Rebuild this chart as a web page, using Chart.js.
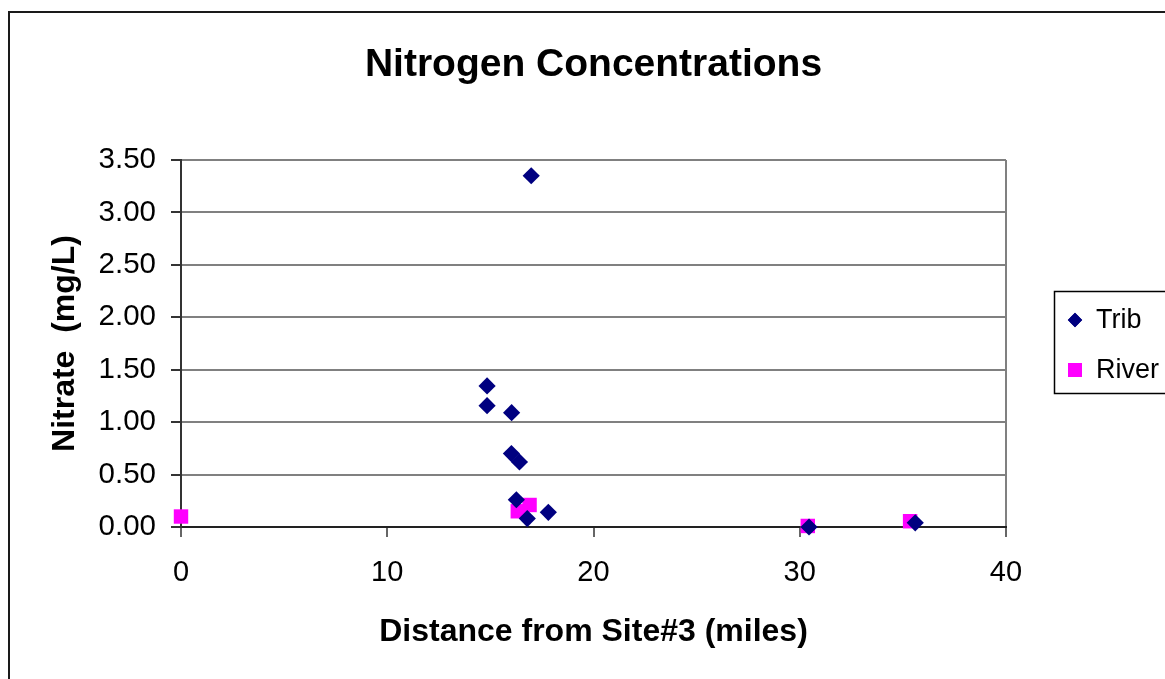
<!DOCTYPE html>
<html><head><meta charset="utf-8">
<script src="https://cdn.jsdelivr.net/npm/chart.js@4/dist/chart.umd.min.js"></script>
<style>html,body{margin:0;padding:0;background:#fff;overflow:hidden}#wrap{width:1165px;height:679px;position:relative}</style>
</head><body><div id="wrap"><canvas id="c" width="1165" height="679"></canvas></div>
<script>
const chartTitle = 'Nitrogen Concentrations';
const xAxisTitle = 'Distance from Site#3 (miles)';
const yAxisTitle = 'Nitrate  (mg/L)';
const seriesNames = ['Trib', 'River'];
const tribX = [16.98, 14.84, 14.84, 16.03, 16.02, 16.41, 16.26, 16.79, 17.81, 30.45, 35.6];
const tribY = [3.35, 1.345, 1.157, 1.09, 0.70, 0.62, 0.26, 0.08, 0.14, 0.0, 0.04];
const riverX = [0, 16.33, 16.9, 30.39, 35.35];
const riverY = [0.10, 0.15, 0.21, 0.01, 0.055];
const xTickValues = [0, 10, 20, 30, 40];
const yTickValues = [0, 0.5, 1.0, 1.5, 2.0, 2.5, 3.0, 3.5];

const FONT = "'Liberation Sans', Arial, sans-serif";
const toPts = (xs, ys) => xs.map((x, i) => ({x: x, y: ys[i]}));

const framePlugin = {
  id: 'frame',
  beforeDraw(chart) {
    const ctx = chart.ctx;
    ctx.save();
    ctx.fillStyle = '#fff';
    ctx.fillRect(0, 0, chart.width, chart.height);
    ctx.lineWidth = 2;
    ctx.strokeStyle = '#1a1a1a';
    ctx.strokeRect(9, 12, 1200, 700);
    ctx.restore();
  },
  afterDraw(chart) {
    const ctx = chart.ctx;
    ctx.save();
    ctx.lineWidth = 1.5;
    ctx.strokeStyle = '#000';
    ctx.strokeRect(1054.5, 291.5, 200, 102);
    const ds = chart.data.datasets;
    const items = [
      {ds: ds[0], y: 320, r: 7.2},
      {ds: ds[1], y: 370, r: 9.9}
    ];
    items.forEach(it => {
      ctx.fillStyle = it.ds.backgroundColor;
      Chart.helpers.drawPoint(ctx, {pointStyle: it.ds.pointStyle, radius: it.r, borderWidth: 0, rotation: 0}, 1075, it.y);
      ctx.fill();
      ctx.fillStyle = '#000';
      ctx.font = '27px ' + FONT;
      ctx.textBaseline = 'alphabetic';
      ctx.textAlign = 'left';
      ctx.fillText(it.ds.label, 1096, it.y + 8);
    });
    ctx.restore();
  }
};

new Chart(document.getElementById('c'), {
  type: 'scatter',
  data: {
    datasets: [
      {label: seriesNames[0], data: toPts(tribX, tribY), pointStyle: 'rectRot', pointRadius: 8.6, pointHoverRadius: 8.6,
       backgroundColor: '#000080', borderColor: '#000080', pointBorderWidth: 0, borderWidth: 0, clip: false},
      {label: seriesNames[1], data: toPts(riverX, riverY), pointStyle: 'rect', pointRadius: 10.2, pointHoverRadius: 10.2,
       backgroundColor: '#ff00ff', borderColor: '#ff00ff', pointBorderWidth: 0, borderWidth: 0, clip: false}
    ]
  },
  options: {
    responsive: false,
    devicePixelRatio: 1,
    animation: false,
    events: [],
    layout: {padding: {left: 10, top: 10, right: 159, bottom: 0}},
    plugins: {
      legend: {display: false},
      tooltip: {enabled: false},
      title: {
        display: true, text: chartTitle, fullSize: false, color: '#000',
        font: {family: FONT, size: 39, weight: 'bold'},
        padding: {top: 32, bottom: 71.2}
      }
    },
    scales: {
      x: {
        type: 'linear', min: 0, max: 40,
        afterBuildTicks: s => { s.ticks = xTickValues.map(v => ({value: v})); },
        afterFit: s => { s.height = 152; },
        ticks: {color: '#000', font: {family: FONT, size: 29}, padding: 18.6, maxRotation: 0, callback: v => String(v)},
        grid: {
          color: c => (c.tick && c.tick.value === 40) ? '#808080' : 'rgba(0,0,0,0)',
          lineWidth: 2, tickColor: '#666', tickLength: 10, drawTicks: true
        },
        border: {display: true, color: '#222', width: 2},
        title: {display: true, text: xAxisTitle, color: '#000', font: {family: FONT, size: 32, weight: 'bold'}, padding: {top: 0, bottom: 28}}
      },
      y: {
        type: 'linear', min: 0, max: 3.5,
        afterBuildTicks: s => { s.ticks = yTickValues.map(v => ({value: v})); },
        afterFit: s => { s.width = 171; },
        ticks: {color: '#000', font: {family: FONT, size: 29.5}, padding: 15, callback: v => Number(v).toFixed(2)},
        grid: {color: '#808080', lineWidth: 2, tickColor: '#333', tickLength: 10},
        border: {display: true, color: '#333', width: 2},
        title: {display: true, text: yAxisTitle, color: '#000', font: {family: FONT, size: 32, weight: 'bold'}, padding: {top: 35.7, bottom: 0}}
      }
    }
  },
  plugins: [framePlugin]
});
</script>
</body></html>
